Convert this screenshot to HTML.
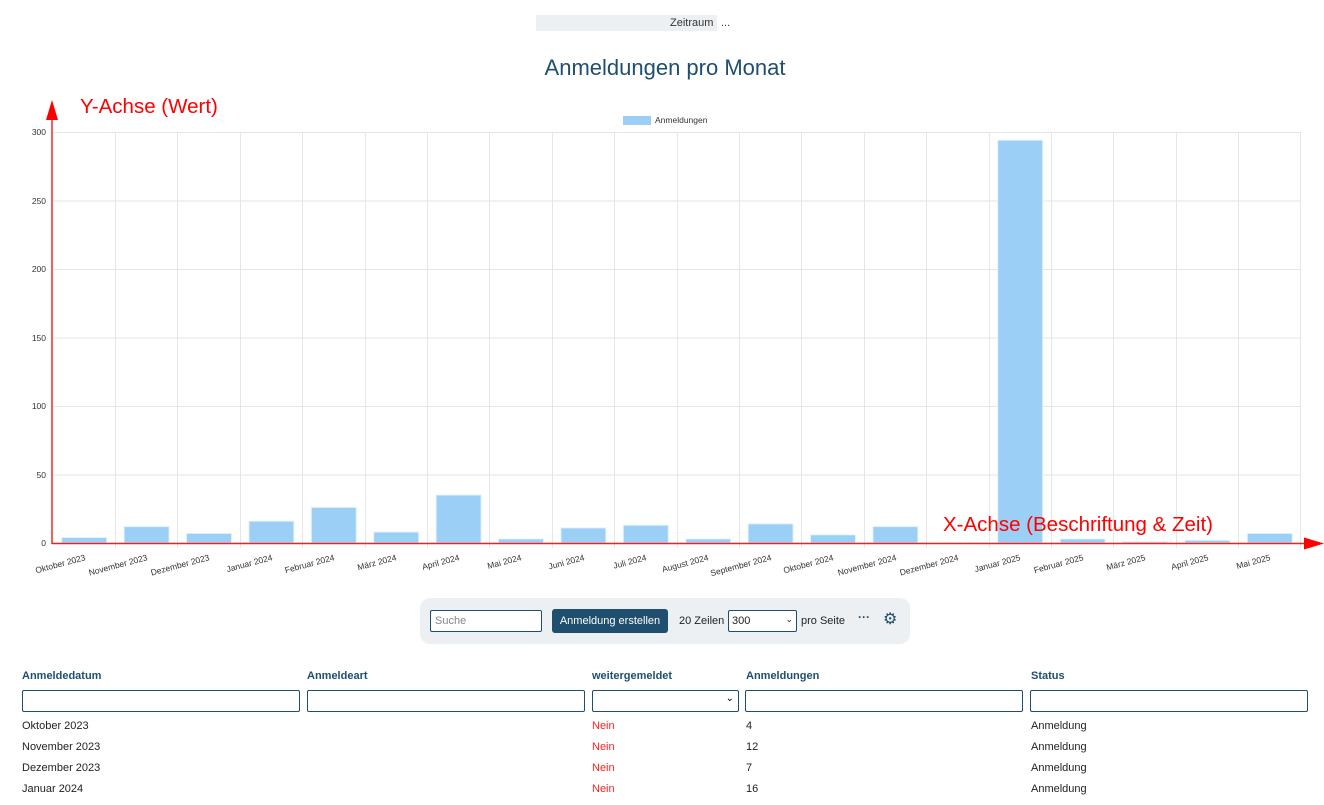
<!DOCTYPE html>
<html><head><meta charset="utf-8"><style>
body{margin:0;width:1324px;height:805px;background:#fff;font-family:"Liberation Sans",Arial,sans-serif;position:relative;overflow:hidden}
.a{position:absolute}
.inp{position:absolute;border:1px solid #1f4e6e;border-radius:2px;background:#fff;box-sizing:border-box;height:22px;top:690px}
.th{position:absolute;top:670px;font-size:11px;font-weight:bold;color:#1f4e6e}
.td{position:absolute;font-size:11px;color:#222}
</style></head><body>
<div class="a" style="left:536px;top:15px;width:181px;height:16px;background:#edf0f3"></div>
<div class="a" style="left:670px;top:17px;font-size:11px;color:#333">Zeitraum</div>
<div class="a" style="left:721px;top:17px;font-size:11px;color:#333">...</div>
<div class="a" style="left:0;width:1330px;top:55px;text-align:center;font-size:22px;color:#1f4e6e">Anmeldungen pro Monat</div>
<svg class="a" style="left:0;top:0" width="1324" height="600" font-family="Liberation Sans, Arial, sans-serif">
<rect x="623" y="116" width="28" height="9" fill="#9ccff5"/>
<text x="655" y="123" font-size="8.5" fill="#333">Anmeldungen</text>
<g stroke="#e6e6e6" stroke-width="1">
<line x1="53" y1="132.5" x2="1301" y2="132.5"/><line x1="53" y1="201" x2="1301" y2="201"/><line x1="53" y1="269.5" x2="1301" y2="269.5"/><line x1="53" y1="338" x2="1301" y2="338"/><line x1="53" y1="406.5" x2="1301" y2="406.5"/><line x1="53" y1="475" x2="1301" y2="475"/>
<line x1="115.5" y1="132" x2="115.5" y2="548"/><line x1="177.5" y1="132" x2="177.5" y2="548"/><line x1="240.5" y1="132" x2="240.5" y2="548"/><line x1="302.5" y1="132" x2="302.5" y2="548"/><line x1="365.5" y1="132" x2="365.5" y2="548"/><line x1="427.5" y1="132" x2="427.5" y2="548"/><line x1="489.5" y1="132" x2="489.5" y2="548"/><line x1="552.5" y1="132" x2="552.5" y2="548"/><line x1="614.5" y1="132" x2="614.5" y2="548"/><line x1="677.5" y1="132" x2="677.5" y2="548"/><line x1="739.5" y1="132" x2="739.5" y2="548"/><line x1="801.5" y1="132" x2="801.5" y2="548"/><line x1="864.5" y1="132" x2="864.5" y2="548"/><line x1="926.5" y1="132" x2="926.5" y2="548"/><line x1="989.5" y1="132" x2="989.5" y2="548"/><line x1="1051.5" y1="132" x2="1051.5" y2="548"/><line x1="1113.5" y1="132" x2="1113.5" y2="548"/><line x1="1176.5" y1="132" x2="1176.5" y2="548"/><line x1="1238.5" y1="132" x2="1238.5" y2="548"/><line x1="1300.5" y1="132" x2="1300.5" y2="548"/>
</g>
<g font-size="8.5" fill="#333" text-anchor="end">
<text x="46" y="135">300</text><text x="46" y="204">250</text><text x="46" y="272">200</text><text x="46" y="341">150</text><text x="46" y="409">100</text><text x="46" y="478">50</text><text x="46" y="546">0</text>
</g>
<g fill="#9ccff5" stroke="#e3f2fd" stroke-width="1">
<rect x="61.7" y="537.5" width="45" height="5.5"/>
<rect x="124.1" y="526.6" width="45" height="16.4"/>
<rect x="186.5" y="533.4" width="45" height="9.6"/>
<rect x="248.9" y="521.1" width="45" height="21.9"/>
<rect x="311.3" y="507.4" width="45" height="35.6"/>
<rect x="373.7" y="532" width="45" height="11"/>
<rect x="436.1" y="495" width="45" height="48"/>
<rect x="498.5" y="538.9" width="45" height="4.1"/>
<rect x="560.9" y="527.9" width="45" height="15.1"/>
<rect x="623.3" y="525.2" width="45" height="17.8"/>
<rect x="685.7" y="538.9" width="45" height="4.1"/>
<rect x="748.1" y="523.8" width="45" height="19.2"/>
<rect x="810.5" y="534.8" width="45" height="8.2"/>
<rect x="872.9" y="526.6" width="45" height="16.4"/>
<rect x="997.7" y="140.2" width="45" height="402.8"/>
<rect x="1060.1" y="538.9" width="45" height="4.1"/>
<rect x="1122.5" y="541.6" width="45" height="1.4"/>
<rect x="1184.9" y="540.3" width="45" height="2.7"/>
<rect x="1247.3" y="533.4" width="45" height="9.6"/>
</g>
<g font-size="8.5" fill="#333" text-anchor="end">
<text transform="translate(86,560) rotate(-15)">Oktober 2023</text>
<text transform="translate(148,560) rotate(-15)">November 2023</text>
<text transform="translate(210,560) rotate(-15)">Dezember 2023</text>
<text transform="translate(273,560) rotate(-15)">Januar 2024</text>
<text transform="translate(335,560) rotate(-15)">Februar 2024</text>
<text transform="translate(397,560) rotate(-15)">März 2024</text>
<text transform="translate(460,560) rotate(-15)">April 2024</text>
<text transform="translate(522,560) rotate(-15)">Mai 2024</text>
<text transform="translate(585,560) rotate(-15)">Juni 2024</text>
<text transform="translate(647,560) rotate(-15)">Juli 2024</text>
<text transform="translate(709,560) rotate(-15)">August 2024</text>
<text transform="translate(772,560) rotate(-15)">September 2024</text>
<text transform="translate(834,560) rotate(-15)">Oktober 2024</text>
<text transform="translate(897,560) rotate(-15)">November 2024</text>
<text transform="translate(959,560) rotate(-15)">Dezember 2024</text>
<text transform="translate(1021,560) rotate(-15)">Januar 2025</text>
<text transform="translate(1084,560) rotate(-15)">Februar 2025</text>
<text transform="translate(1146,560) rotate(-15)">März 2025</text>
<text transform="translate(1209,560) rotate(-15)">April 2025</text>
<text transform="translate(1271,560) rotate(-15)">Mai 2025</text>
</g>
<line x1="52" y1="118" x2="52" y2="544" stroke="#f06060" stroke-width="2"/>
<polygon points="52,100 46,120 58,120" fill="#ff0000"/>
<line x1="52" y1="543.5" x2="1306" y2="543.5" stroke="#ee2020" stroke-width="1.5"/>
<polygon points="1324,543.5 1304,537.5 1304,549.5" fill="#ff0000"/>
<text x="80" y="113" font-size="20.5" fill="#ff0000">Y-Achse (Wert)</text>
<text x="943" y="531" font-size="20.5" fill="#ff0000">X-Achse (Beschriftung &amp; Zeit)</text>
</svg>
<div class="a" style="left:420px;top:598px;width:490px;height:46px;background:#edf0f3;border-radius:10px"></div>
<div class="a" style="left:430px;top:610px;width:112px;height:22px;border:1px solid #1f4e6e;border-radius:2px;background:#fff;box-sizing:border-box;font-size:11px;color:#888;padding:4px 4px">Suche</div>
<div class="a" style="left:552px;top:609px;width:116px;height:24px;background:#1f4e6e;border-radius:3px;color:#fff;font-size:11px;text-align:center;line-height:24px">Anmeldung erstellen</div>
<div class="a" style="left:679px;top:615px;font-size:11px;color:#222">20 Zeilen</div>
<div class="a" style="left:728px;top:610px;width:69px;height:22px;border:1px solid #1f4e6e;border-radius:2px;background:#fff;box-sizing:border-box;font-size:11px;color:#222;padding:4px 3px">300<span style="position:absolute;right:3px;top:3px;font-size:9px">⌄</span></div>
<div class="a" style="left:801px;top:615px;font-size:11px;color:#222">pro Seite</div>
<div class="a" style="left:858px;top:610px;font-size:12px;font-weight:bold;color:#1f4e6e">···</div>
<div class="a" style="left:883px;top:609px;font-size:16px;color:#1f4e6e">⚙</div>
<div class="th" style="left:22px">Anmeldedatum</div>
<div class="th" style="left:307px">Anmeldeart</div>
<div class="th" style="left:592px">weitergemeldet</div>
<div class="th" style="left:746px">Anmeldungen</div>
<div class="th" style="left:1031px">Status</div>
<div class="inp" style="left:22px;width:278px"></div>
<div class="inp" style="left:307px;width:278px"></div>
<div class="inp" style="left:592px;width:147px"><span style="position:absolute;right:4px;top:2px;font-size:10px">⌄</span></div>
<div class="inp" style="left:745px;width:278px"></div>
<div class="inp" style="left:1030px;width:278px"></div>
<div class="td" style="left:22px;top:720px">Oktober 2023</div><div class="td" style="left:592px;top:720px;color:#ff2020">Nein</div><div class="td" style="left:746px;top:720px">4</div><div class="td" style="left:1031px;top:720px">Anmeldung</div>
<div class="td" style="left:22px;top:741px">November 2023</div><div class="td" style="left:592px;top:741px;color:#ff2020">Nein</div><div class="td" style="left:746px;top:741px">12</div><div class="td" style="left:1031px;top:741px">Anmeldung</div>
<div class="td" style="left:22px;top:762px">Dezember 2023</div><div class="td" style="left:592px;top:762px;color:#ff2020">Nein</div><div class="td" style="left:746px;top:762px">7</div><div class="td" style="left:1031px;top:762px">Anmeldung</div>
<div class="td" style="left:22px;top:783px">Januar 2024</div><div class="td" style="left:592px;top:783px;color:#ff2020">Nein</div><div class="td" style="left:746px;top:783px">16</div><div class="td" style="left:1031px;top:783px">Anmeldung</div>
</body></html>
